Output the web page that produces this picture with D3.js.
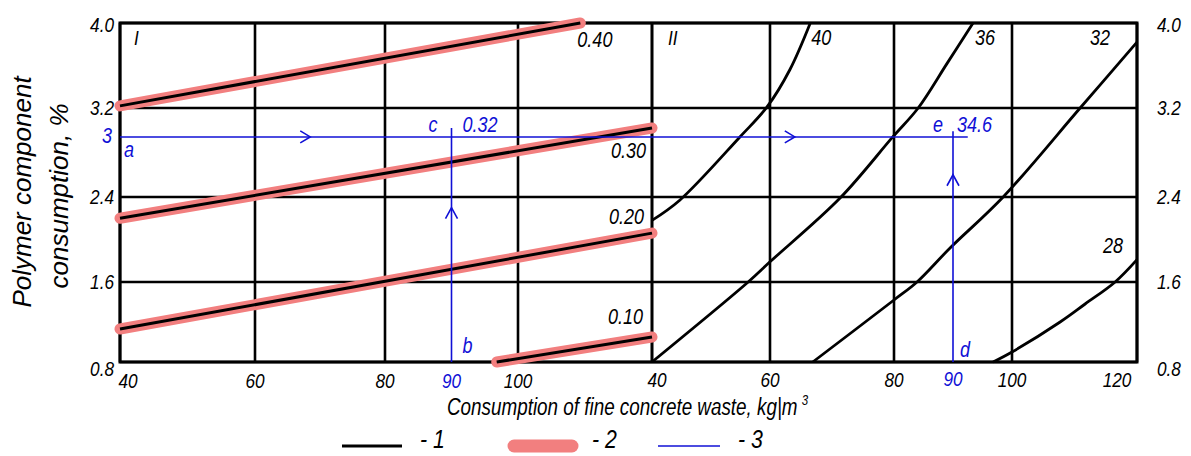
<!DOCTYPE html>
<html>
<head>
<meta charset="utf-8">
<script src="https://cdn.jsdelivr.net/npm/d3@7"></script>
<style>
  body { margin: 0; background: #fff; }
  text { font-family: "Liberation Sans", Arial, sans-serif; font-style: italic; }
</style>
</head>
<body>
<div id="chart"></div>
<script>
const yTicks = [0.8, 1.6, 2.4, 3.2, 4.0];
const yTickLabels = ['0.8', '1.6', '2.4', '3.2', '4.0'];
const xTicks = [40, 60, 80, 100, 120];
const xTickLabelsI = ['40', '60', '80', '100'];
const xTickLabelsII = ['40', '60', '80', '100', '120'];

// panel I: polymer/cement ratio lines (drawn as 1 over 2)
const ratioLabels = ['0.40', '0.30', '0.20', '0.10'];
const line040 = [[40, 3.22], [109.3, 4.0]];
const line030 = [[40, 2.20], [120, 3.02]];
const line020 = [[40, 1.13], [120, 2.06]];
const line010 = [[96.8, 0.8], [120, 1.05]];

// panel II: strength curves
const strengthLabels = ['40', '36', '32', '28'];
const curve40 = [[40, 2.18], [44.7, 2.37], [54.9, 2.94], [59.5, 3.21], [63.2, 3.56], [66.5, 4.0]];
const curve36 = [[40, 0.8], [56.3, 1.6], [60, 1.79], [71.3, 2.39], [79.8, 2.94], [84.1, 3.2], [89.0, 3.62], [93.4, 4.0]];
const curve32 = [[66.9, 0.8], [80, 1.42], [83.9, 1.6], [89.5, 1.92], [98.5, 2.4], [110.9, 3.2], [120, 3.82]];
const curve28 = [[96.8, 0.8], [100, 0.9], [107.7, 1.20], [111.7, 1.38], [116.5, 1.6], [120, 1.81]];

// example path (3)
const guideValue = 2.94;           // labelled "3"
const guideEndII = 92.5;
const guideArrowsX = [68.5, 64.0]; // panel I, panel II
const guideVertX = [90, 90];
const guideVertTop = [3.02, 2.99];
const guideVertArrow = [2.30, 2.60];
const guideTexts = ['3', 'a', 'c', '0.32', 'b', 'e', '34.6', 'd', '90'];

const legendLabels = ['- 1', '- 2', '- 3'];

class NomogramVis {
  constructor(_config) {
    this.config = {
      parentElement: _config.parentElement,
      containerWidth: 1191,
      containerHeight: 456,
      yRange: [362, 282, 197, 108, 23],
      xRangeI: [120, 255, 385, 518, 652],
      xRangeII: [652, 770, 894, 1012, 1137],
      gridWidth: 2.6,
      black: '#000',
      pink: '#f27f7f',
      blue: '#1010d6',
      narrow: 0.82,
      ratioLabelOffsets: [[-3, 24], [-41, 30], [-43, -9], [-44, -13]],
      strengthLabelOffsets: [[1, 22], [2, 22], [-47, 3], [-34, -7]]
    };
    this.initVis();
  }

  label(parent, x, y, str, size, opts = {}) {
    const sx = opts.sx === undefined ? this.config.narrow : opts.sx;
    return parent.append('text')
      .attr('transform', `translate(${x},${y}) scale(${sx},1)`)
      .attr('text-anchor', opts.anchor || 'start')
      .attr('font-size', size)
      .attr('fill', opts.fill || this.config.black)
      .text(str);
  }

  initVis() {
    const vis = this;
    const c = vis.config;

    vis.svg = d3.select(c.parentElement).append('svg')
      .attr('width', c.containerWidth)
      .attr('height', c.containerHeight);

    vis.y = d3.scaleLinear().domain(yTicks).range(c.yRange);
    vis.xI = d3.scaleLinear().domain(xTicks).range(c.xRangeI);
    vis.xII = d3.scaleLinear().domain(xTicks).range(c.xRangeII);

    const left = c.xRangeI[0], right = c.xRangeII[4];
    const top = vis.y(4.0), bottom = vis.y(0.8);

    // grid
    const grid = vis.svg.append('g').attr('stroke', c.black).attr('stroke-width', c.gridWidth);
    grid.selectAll('.hgrid').data(yTicks).join('line')
      .attr('x1', left).attr('x2', right)
      .attr('y1', d => vis.y(d)).attr('y2', d => vis.y(d));
    [vis.xI, vis.xII].forEach(x => {
      grid.append('g').selectAll('line').data(xTicks).join('line')
        .attr('x1', d => x(d)).attr('x2', d => x(d))
        .attr('y1', top).attr('y2', bottom);
    });
    grid.append('rect')
      .attr('x', left).attr('y', top)
      .attr('width', right - left).attr('height', bottom - top)
      .attr('fill', 'none').attr('stroke-width', 3);

    // axis tick labels
    const t = vis.svg.append('g');
    yTicks.forEach((v, i) => {
      const dy = 7 + (v === 0.8 ? 7 : 0) + (v === 4.0 ? 2 : 0);
      vis.label(t, left - 6, vis.y(v) + dy, yTickLabels[i], 21, {anchor: 'end'});
      vis.label(t, right + 20, vis.y(v) + dy, yTickLabels[i], 21);
    });
    xTickLabelsI.forEach((s, i) => {
      vis.label(t, vis.xI(xTicks[i]) + (i === 0 ? 8 : 0), bottom + 26, s, 21, {anchor: 'middle'});
    });
    xTickLabelsII.forEach((s, i) => {
      const dx = i === 0 ? 5 : (i === 4 ? -20 : 0);
      vis.label(t, vis.xII(xTicks[i]) + dx, bottom + 25, s, 21, {anchor: 'middle'});
    });

    vis.label(t, left + 14, top + 22, 'I', 21);
    vis.label(t, vis.xII(40) + 16, top + 22, 'II', 21);

    // panel I ratio lines: pink (2) under black (1)
    const lineI = d3.line().x(d => vis.xI(d[0])).y(d => vis.y(d[1]));
    const ratioLines = [line040, line030, line020, line010];
    const gI = vis.svg.append('g').attr('fill', 'none').attr('stroke-linecap', 'round');
    gI.selectAll('.pink').data(ratioLines).join('path')
      .attr('d', lineI).attr('stroke', c.pink).attr('stroke-width', 11);
    gI.selectAll('.blk').data(ratioLines).join('path')
      .attr('class', 'blk')
      .attr('d', lineI).attr('stroke', c.black).attr('stroke-width', 3).attr('stroke-linecap', 'butt');
    ratioLines.forEach((pts, i) => {
      const end = pts[pts.length - 1];
      const o = c.ratioLabelOffsets[i];
      vis.label(t, vis.xI(end[0]) + o[0], vis.y(end[1]) + o[1], ratioLabels[i], 22);
    });

    // panel II strength curves
    const lineII = d3.line().x(d => vis.xII(d[0])).y(d => vis.y(d[1])).curve(d3.curveCatmullRom);
    const curves = [curve40, curve36, curve32, curve28];
    vis.svg.append('g').selectAll('path').data(curves).join('path')
      .attr('d', lineII).attr('fill', 'none')
      .attr('stroke', c.black).attr('stroke-width', 2.8);
    curves.forEach((pts, i) => {
      const end = pts[pts.length - 1];
      const o = c.strengthLabelOffsets[i];
      vis.label(t, vis.xII(end[0]) + o[0], vis.y(end[1]) + o[1], strengthLabels[i], 22);
    });

    // example path (3)
    const g3 = vis.svg.append('g').attr('stroke', c.blue).attr('stroke-width', 1.6).attr('fill', 'none');
    const gy = vis.y(guideValue);
    g3.append('line').attr('x1', left).attr('x2', vis.xII(guideEndII)).attr('y1', gy).attr('y2', gy);
    const vx = [vis.xI(guideVertX[0]), vis.xII(guideVertX[1])];
    vx.forEach((x, i) => {
      g3.append('line').attr('x1', x).attr('x2', x)
        .attr('y1', bottom).attr('y2', vis.y(guideVertTop[i]));
      const ay = vis.y(guideVertArrow[i]);
      g3.append('path').attr('d', `M${x - 6},${ay + 11}L${x},${ay}L${x + 6},${ay + 11}`);
    });
    [vis.xI(guideArrowsX[0]), vis.xII(guideArrowsX[1])].forEach(x => {
      g3.append('path').attr('d', `M${x - 10},${gy - 6}L${x},${gy}L${x - 10},${gy + 6}`);
    });

    const b = {fill: c.blue};
    vis.label(t, left - 8, gy + 6, guideTexts[0], 22, {anchor: 'end', fill: c.blue});
    vis.label(t, left + 4, gy + 20, guideTexts[1], 22, b);
    const topI = vis.y(guideVertTop[0]), topII = vis.y(guideVertTop[1]);
    vis.label(t, vx[0] - 23, topI + 4, guideTexts[2], 22, b);
    vis.label(t, vx[0] + 11, topI + 4, guideTexts[3], 22, b);
    vis.label(t, vx[0] + 11, bottom - 9, guideTexts[4], 22, b);
    vis.label(t, vx[1] - 20, topII + 1, guideTexts[5], 22, b);
    vis.label(t, vx[1] + 4, topII + 1, guideTexts[6], 22, b);
    vis.label(t, vx[1] + 7, bottom - 5, guideTexts[7], 22, b);
    vis.label(t, vx[0], bottom + 26, guideTexts[8], 21, {anchor: 'middle', fill: c.blue});
    vis.label(t, vx[1], bottom + 24, guideTexts[8], 21, {anchor: 'middle', fill: c.blue});

    // axis titles
    const xt = vis.label(t, 447, 415, 'Consumption of fine concrete waste, kg|m', 23);
    xt.append('tspan').attr('dx', 5).attr('dy', -10).attr('font-size', 14).text('3');

    vis.svg.append('text')
      .attr('transform', 'translate(31,192) rotate(-90)')
      .attr('text-anchor', 'middle').attr('font-size', 26)
      .text('Polymer component');
    vis.svg.append('text')
      .attr('transform', 'translate(68,196) rotate(-90)')
      .attr('text-anchor', 'middle').attr('font-size', 26)
      .text('consumption, %');

    // legend
    const lg = vis.svg.append('g');
    const ly = 446;
    lg.append('line').attr('x1', 342).attr('x2', 402).attr('y1', ly).attr('y2', ly)
      .attr('stroke', c.black).attr('stroke-width', 3);
    lg.append('line').attr('x1', 514).attr('x2', 572).attr('y1', ly).attr('y2', ly)
      .attr('stroke', c.pink).attr('stroke-width', 13).attr('stroke-linecap', 'round');
    lg.append('line').attr('x1', 658).attr('x2', 720).attr('y1', ly).attr('y2', ly)
      .attr('stroke', c.blue).attr('stroke-width', 1.6);
    [420, 592, 738].forEach((x, i) => vis.label(lg, x, 448, legendLabels[i], 26));
  }
}

new NomogramVis({parentElement: '#chart'});
</script>
</body>
</html>
